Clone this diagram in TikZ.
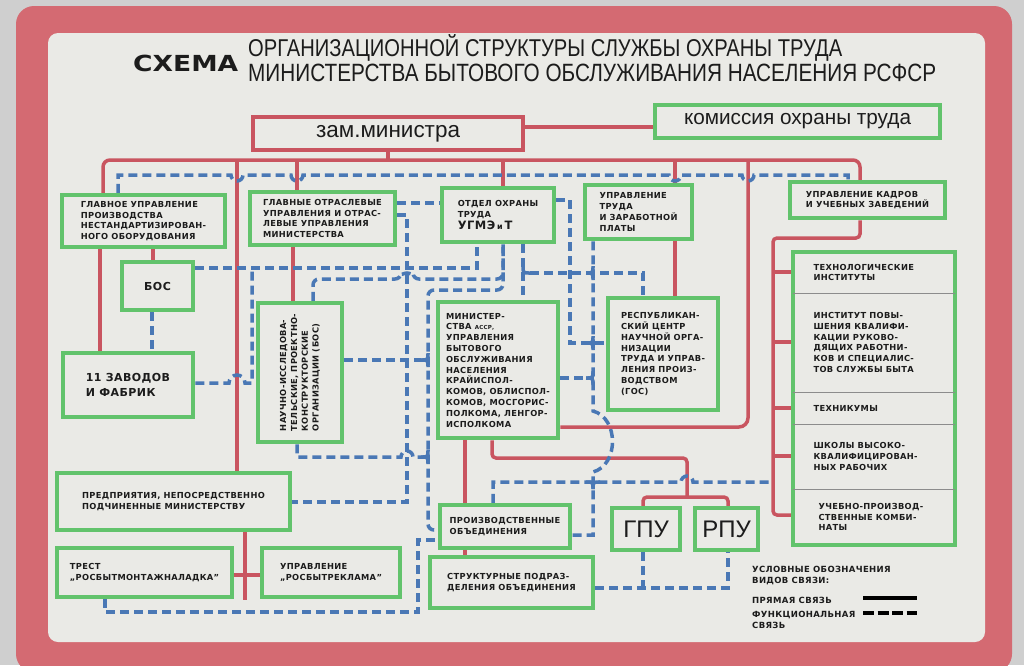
\documentclass[tikz,border=0pt]{standalone}
\usepackage{fontspec}
\usepackage{graphicx}
\setmainfont{DejaVu Sans}
\newfontfamily\boxfam[LetterSpace=4]{DejaVu Sans}
\newfontfamily\lsans{Liberation Sans}
\pgfdeclarelayer{paperlayer}
\pgfdeclarelayer{lines}
\pgfsetlayers{paperlayer,lines,main}
\definecolor{paper}{HTML}{EAEAE6}
\definecolor{framec}{HTML}{D46A72}
\definecolor{outside}{HTML}{CFCFCF}
\definecolor{grn}{HTML}{62C36C}
\definecolor{rd}{HTML}{C95560}
\definecolor{bl}{HTML}{4A78B5}
\definecolor{ink}{HTML}{1C1C1C}
\newcommand\bxf{\boxfam\bfseries\fontsize{8.3}{10.8}\selectfont}
\newcommand\bigbxf{\boxfam\bfseries\fontsize{11}{14.5}\selectfont}
\newcommand\lgf{\boxfam\bfseries\fontsize{8.5}{11}\selectfont}
\newcommand\bx[7][]{%
  \pgfmathsetmacro\bxw{#5-#3}\pgfmathsetmacro\bxh{#6-#4}%
  \node[box,minimum width=\bxw pt,minimum height=\bxh pt,#1] (#2) at ({(#3+#5)/2},{(#4+#6)/2}) {#7};}
\newcommand\jnR[2]{%
  \draw[junc] ({#1-7},#2) .. controls (#1,#2) .. (#1,{#2-7});
  \draw[junc] ({#1-7},#2) .. controls (#1,#2) .. (#1,{#2+7});}
\begin{document}
\begin{tikzpicture}[x=1pt,y=-1pt,
  box/.style={draw=grn,line width=4.5pt,fill=paper,inner sep=1.5pt,text=ink,font=\bxf,align=left},
  dir/.style={draw=rd,line width=3.5pt,rounded corners=4pt},
  fun/.style={draw=bl,line width=3.5pt,dash pattern=on 9pt off 5pt},
  junc/.style={draw=bl,line width=3.5pt},
  divl/.style={draw=black!45,line width=0.8pt,shorten <=2.3pt,shorten >=2.3pt},
  ttl/.style={inner sep=0pt,text=ink,anchor=west}]
\useasboundingbox (0,0) rectangle (1024,665);
\begin{pgfonlayer}{paperlayer}
\fill[outside] (0,0) rectangle (1024,665);
\fill[framec,rounded corners=18pt] (16,6) rectangle (1012,672);
\fill[paper,rounded corners=10pt] (48,33) rectangle (985,642);
\end{pgfonlayer}

% title
\node[ttl] (t0) at (133,63) {\resizebox{105pt}{!}{\scalebox{1.2}[1]{\fontsize{22}{22}\bfseries\selectfont СХЕМА}}};
\node[ttl] (t1) at (248,48) {\resizebox{594pt}{!}{\scalebox{0.83}[1]{\lsans\fontsize{25}{25}\selectfont ОРГАНИЗАЦИОННОЙ СТРУКТУРЫ СЛУЖБЫ ОХРАНЫ ТРУДА}}};
\node[ttl] (t2) at (248,73) {\resizebox{688pt}{!}{\scalebox{0.83}[1]{\lsans\fontsize{25}{25}\selectfont МИНИСТЕРСТВА БЫТОВОГО ОБСЛУЖИВАНИЯ НАСЕЛЕНИЯ РСФСР}}};

% boxes
\bx[draw=rd]{zam}{253}{117}{523}{150}{\resizebox{144pt}{!}{\lsans\mdseries\fontsize{21}{21}\selectfont зам.министра}}
\bx{kom}{655}{105}{940}{138}{\resizebox{227pt}{!}{\lsans\mdseries\fontsize{21}{21}\selectfont комиссия охраны труда}}
\bx{glupr}{62}{195}{225}{247}{ГЛАВНОЕ УПРАВЛЕНИЕ\\ПРОИЗВОДСТВА\\НЕСТАНДАРТИЗИРОВАН-\\НОГО ОБОРУДОВАНИЯ}
\bx{glotr}{250}{192}{395}{245}{ГЛАВНЫЕ ОТРАСЛЕВЫЕ\\УПРАВЛЕНИЯ И ОТРАС-\\ЛЕВЫЕ УПРАВЛЕНИЯ\\МИНИСТЕРСТВА}
\bx{otdel}{442}{188}{554}{242}{ОТДЕЛ ОХРАНЫ\\ТРУДА\\[1pt]{\fontsize{11.5}{13}\selectfont УГМЭ\,{\fontsize{8}{10}\selectfont и}\,Т}}
\bx{uprtr}{585}{185}{692}{239}{УПРАВЛЕНИЕ\\ТРУДА\\И ЗАРАБОТНОЙ\\ПЛАТЫ}
\bx{kadry}{790}{182}{945}{218}{УПРАВЛЕНИЕ КАДРОВ\\И УЧЕБНЫХ ЗАВЕДЕНИЙ}
\bx[font=\bigbxf]{bos}{122}{262}{193}{310}{БОС}
\bx[font=\bigbxf]{zav}{63}{353}{193}{417}{11 ЗАВОДОВ\\И ФАБРИК}
\bx{nauch}{258}{303}{342}{442}{}
\node[font=\bxf,align=left,rotate=90,text=ink,inner sep=0pt] (nauchtxt) at (nauch.center) {НАУЧНО-ИССЛЕДОВА-\\ТЕЛЬСКИЕ, ПРОЕКТНО-\\КОНСТРУКТОРСКИЕ\\ОРГАНИЗАЦИИ (БОС)};
\bx{minist}{438}{302}{558}{438}{МИНИСТЕР-\\СТВА {\fontsize{5.5}{6}\selectfont АССР,}\\УПРАВЛЕНИЯ\\БЫТОВОГО\\ОБСЛУЖИВАНИЯ\\НАСЕЛЕНИЯ\\КРАЙИСПОЛ-\\КОМОВ, ОБЛИСПОЛ-\\КОМОВ, МОСГОРИС-\\ПОЛКОМА, ЛЕНГОР-\\ИСПОЛКОМА}
\bx{resp}{608}{298}{718}{410}{РЕСПУБЛИКАН-\\СКИЙ ЦЕНТР\\НАУЧНОЙ ОРГА-\\НИЗАЦИИ\\ТРУДА И УПРАВ-\\ЛЕНИЯ ПРОИЗ-\\ВОДСТВОМ\\(ГОС)}
\bx{edu}{793}{252}{955}{545}{}
\draw[divl] (edu.west |- 0,293) -- (edu.east |- 0,293);
\draw[divl] (edu.west |- 0,392) -- (edu.east |- 0,392);
\draw[divl] (edu.west |- 0,424) -- (edu.east |- 0,424);
\draw[divl] (edu.west |- 0,489) -- (edu.east |- 0,489);
\node[font=\bxf,align=left,anchor=west,text=ink] (edu1) at (810,272.5) {ТЕХНОЛОГИЧЕСКИЕ\\ИНСТИТУТЫ};
\node[font=\bxf,align=left,anchor=west,text=ink] (edu2) at (810,342.5) {ИНСТИТУТ ПОВЫ-\\ШЕНИЯ КВАЛИФИ-\\КАЦИИ РУКОВО-\\ДЯЩИХ РАБОТНИ-\\КОВ И СПЕЦИАЛИС-\\ТОВ СЛУЖБЫ БЫТА};
\node[font=\bxf,align=left,anchor=west,text=ink] (edu3) at (810,408) {ТЕХНИКУМЫ};
\node[font=\bxf,align=left,anchor=west,text=ink] (edu4) at (810,456.5) {ШКОЛЫ ВЫСОКО-\\КВАЛИФИЦИРОВАН-\\НЫХ РАБОЧИХ};
\node[font=\bxf,align=left,anchor=west,text=ink] (edu5) at (815,517) {УЧЕБНО-ПРОИЗВОД-\\СТВЕННЫЕ КОМБИ-\\НАТЫ};
\bx{predp}{57}{473}{290}{530}{ПРЕДПРИЯТИЯ, НЕПОСРЕДСТВЕННО\\ПОДЧИНЕННЫЕ МИНИСТЕРСТВУ}
\bx{trest}{57}{548}{232}{597}{ТРЕСТ\\„РОСБЫТМОНТАЖНАЛАДКА”}
\bx{reklama}{262}{548}{400}{597}{УПРАВЛЕНИЕ\\„РОСБЫТРЕКЛАМА”}
\bx{proizv}{440}{505}{570}{548}{ПРОИЗВОДСТВЕННЫЕ\\ОБЪЕДИНЕНИЯ}
\bx{strukt}{430}{557}{593}{608}{СТРУКТУРНЫЕ ПОДРАЗ-\\ДЕЛЕНИЯ ОБЪЕДИНЕНИЯ}
\bx[font={\lsans\fontsize{24}{24}\selectfont}]{gpu}{612}{508}{680}{550}{ГПУ}
\bx[font={\lsans\fontsize{24}{24}\selectfont}]{rpu}{695}{508}{758}{550}{РПУ}

% legend
\node[font=\lgf,align=left,anchor=north west,inner sep=0pt,text=ink] (lg1) at (752,566) {УСЛОВНЫЕ ОБОЗНАЧЕНИЯ\\ВИДОВ СВЯЗИ:};
\node[font=\lgf,anchor=west,inner sep=0pt,text=ink] (lg2) at (752,600) {ПРЯМАЯ СВЯЗЬ};
\node[font=\lgf,align=left,anchor=west,inner sep=0pt,text=ink] (lg3) at (752,620) {ФУНКЦИОНАЛЬНАЯ\\СВЯЗЬ};
\coordinate (la) at (863,598); \coordinate (lb) at (917,598);
\coordinate (lc) at (863,613); \coordinate (ld) at (917,613);
\draw[black,line width=4.5pt] (la) -- (lb);
\draw[black,line width=4.5pt,dash pattern=on 11pt off 3.5pt] (lc) -- (ld);

\begin{pgfonlayer}{lines}
% direct links (red)
\draw[dir] (zam.east |- 0,127) -- (kom.west |- 0,127);
\draw[dir] (zam.south) -- (zam.south |- 0,160);
\draw[dir,rounded corners=7pt] (glupr.north -| 103,0) -- (103,160) -- (860,160) -- (kadry.north -| 860,0);
\draw[dir] (237,160) -- (predp.north -| 237,0);
\draw[dir] (297,160) -- (glotr.north -| 297,0);
\draw[dir] (503,160) -- (otdel.north -| 503,0);
\draw[dir] (675,160) -- (uprtr.north -| 675,0);
\draw[dir,rounded corners=9pt] (748,160) -- (748,427) -- (minist.east |- 0,427);
\draw[dir] (glupr.south -| 100,0) -- (zav.north -| 100,0);
\draw[dir] (glupr.south -| 153,0) -- (bos.north -| 153,0);
\draw[dir] (glotr.south -| 293,0) -- (nauch.north -| 293,0);
\draw[dir] (uprtr.south -| 675,0) -- (resp.north -| 675,0);
\draw[dir] (minist.south -| 465,0) -- (proizv.north -| 465,0);
\draw[dir] (proizv.south -| 465,0) -- (strukt.north -| 465,0);
\draw[dir] (minist.south -| 492,0) -- (492,458) -- (687,458) -- (687,497);
\draw[dir] (gpu.north -| 643,0) -- (643,497) -- (728,497) -- (rpu.north -| 728,0);
\coordinate (pend) at (245,600);
\draw[dir] (predp.south -| 245,0) -- (pend);
\draw[dir] (trest.east |- 0,575) -- (reklama.west |- 0,575);
\draw[dir] (kadry.south -| 860,0) -- (860,238) -- (773,238) -- (773,515) -- (edu.west |- 0,515);
\foreach \yy in {272,342,408,456} \draw[dir] (773,\yy) -- (edu.west |- 0,\yy);

% functional links (blue)
\draw[fun] (glupr.north -| 118,0) -- (118,175) -- (231,175) arc[start angle=180,end angle=0,radius=6]
  -- (291,175) arc[start angle=180,end angle=0,radius=6]
  -- (669,175) arc[start angle=180,end angle=0,radius=6]
  -- (742,175) arc[start angle=180,end angle=0,radius=6]
  -- (848,175) -- (kadry.north -| 848,0);
\draw[fun] (glotr.east |- 0,203) -- (otdel.west |- 0,203);
\draw[fun] (glotr.east |- 0,215) -- (407,215) -- (407,502) -- (predp.east |- 0,502);
\draw[fun] (bos.east |- 0,268) -- (477,268) -- (otdel.south -| 477,0);
\draw[fun] (bos.south -| 152,0) -- (zav.north -| 152,0);
\draw[fun] (zav.east |- 0,383) -- (229,383) arc[start angle=180,end angle=360,radius=8] -- (252,383) -- (252,268);
\draw[fun,rounded corners=6pt] (nauch.north -| 313,0) -- (313,279) -- (401,279) arc[start angle=180,end angle=360,radius=6] -- (503,279) -- (otdel.south -| 503,0);
\draw[fun,rounded corners=6pt] (otdel.south -| 503,0) -- (503,290) -- (428,290) -- (428,530) -- (proizv.west |- 0,530);
\draw[fun] (nauch.east |- 0,360) -- (421,360);
\jnR{428}{360}
\draw[fun] (nauch.south -| 297,0) -- (297,457) -- (401,457) arc[start angle=180,end angle=360,radius=6] -- (421,457);
\jnR{428}{457}
\draw[fun] (trest.south -| 105,0) -- (105,612) -- (418,612) -- (418,540) -- (proizv.west |- 0,540);
\draw[fun] (otdel.south -| 523,0) -- (minist.north -| 523,0);
\draw[fun] (530,273) -- (643,273) -- (resp.north -| 643,0);
\draw[junc] (523,266) .. controls (523,273) .. (530,273);
\jnR{593}{273}
\draw[fun] (otdel.east |- 0,200) -- (570,200) -- (570,343) -- (resp.west |- 0,343);
\jnR{593}{343}
\draw[fun] (uprtr.south -| 593,0) -- (593,411) .. controls (619,418) and (619,465) .. (593,472) -- (593,535) -- (proizv.east |- 0,535);
\draw[fun] (minist.east |- 0,378) -- (586,378);
\jnR{593}{378}
\coordinate (eduj) at (773,482);
\draw[fun] (proizv.north -| 493,0) -- (493,482) -- (681,482) arc[start angle=180,end angle=360,radius=6] -- (eduj);
\draw[junc] (586,482) .. controls (593,482) .. (593,489);
\draw[junc] (600,482) .. controls (593,482) .. (593,489);
\draw[fun] (strukt.east |- 0,588) -- (728,588) -- (rpu.south -| 728,0);
\draw[fun] (gpu.south -| 643,0) -- (643,588);
\end{pgfonlayer}
\end{tikzpicture}
\end{document}
